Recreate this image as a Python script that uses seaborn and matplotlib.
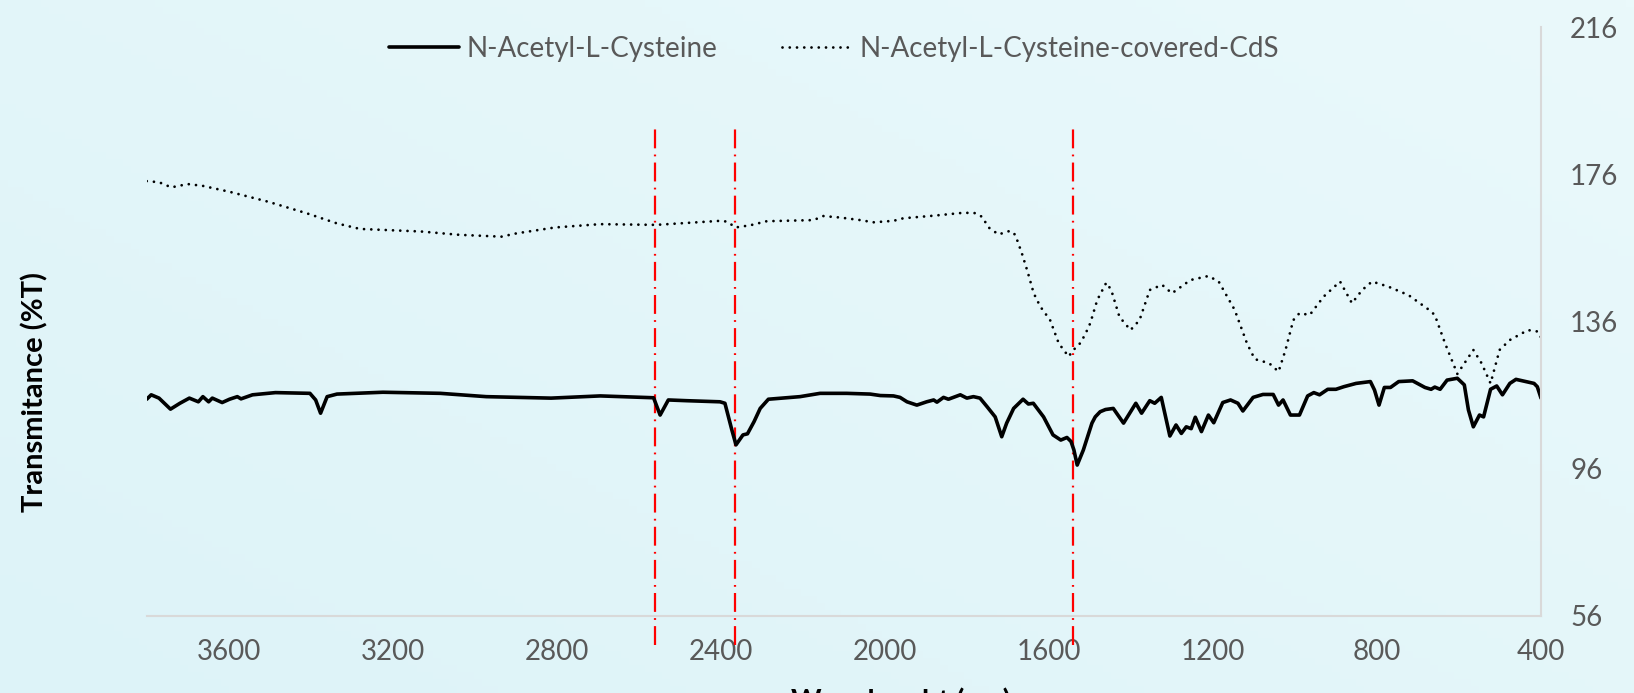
import numpy as np
import pandas as pd
import matplotlib
matplotlib.use("Agg")
import matplotlib.pyplot as plt
import seaborn as sns

# ---------------- data ----------------
nac_wn = [3800, 3789, 3770, 3742, 3719, 3696, 3674, 3663, 3649, 3640, 3616, 3598, 3579, 3570,
          3542, 3486, 3402, 3388, 3376, 3360, 3336, 3224, 3084, 2972, 2898, 2814, 2694, 2564,
          2548, 2528, 2483, 2402, 2390, 2373, 2363, 2346, 2335, 2319, 2304, 2284, 2207, 2158,
          2093, 2036, 2011, 1979, 1963, 1946, 1922, 1898, 1881, 1873, 1857, 1845, 1833, 1816,
          1800, 1784, 1768, 1751, 1731, 1715, 1703, 1686, 1663, 1650, 1638, 1613, 1590, 1571,
          1556, 1546, 1539, 1531, 1516, 1495, 1487, 1475, 1462, 1443, 1418, 1388, 1374, 1354,
          1342, 1326, 1305, 1290, 1277, 1265, 1253, 1243, 1228, 1211, 1198, 1176, 1157, 1139,
          1127, 1102, 1078, 1053, 1040, 1029, 1011, 989, 969, 954, 940, 920, 900, 881, 851,
          816, 806, 795, 782, 767, 747, 713, 683, 668, 659, 646, 629, 604, 587, 577, 565, 550,
          540, 523, 508, 494, 476, 461, 437, 417, 409, 400]
nac_t = [114.8, 116.0, 115.1, 112.1, 113.7, 115.1, 114.1, 115.5, 114.1, 115.1, 113.9, 114.8, 115.5, 114.9,
         116.0, 116.6, 116.4, 114.6, 111.0, 115.5, 116.2, 116.7, 116.4, 115.5, 115.3, 115.1, 115.7, 115.2,
         110.5, 114.6, 114.4, 114.1, 113.7, 106.4, 102.4, 105.1, 105.4, 108.7, 112.3, 114.8, 115.5, 116.4,
         116.4, 116.2, 115.8, 115.7, 115.3, 114.1, 113.2, 114.1, 114.6, 114.0, 115.3, 114.8, 115.3, 116.0,
         115.1, 115.5, 115.1, 112.8, 110.0, 104.6, 108.3, 112.3, 114.8, 113.5, 113.7, 110.0, 105.1, 103.7,
         104.4, 103.3, 101.0, 96.9, 101.0, 108.3, 110.0, 111.4, 112.0, 112.3, 108.3, 113.7, 111.0, 114.4,
         113.7, 115.3, 104.8, 107.8, 105.5, 107.3, 106.8, 109.9, 106.0, 110.5, 108.4, 113.9, 114.6, 113.7,
         111.6, 115.3, 116.1, 116.1, 113.2, 114.6, 110.5, 110.5, 115.7, 116.6, 116.0, 117.5, 117.5, 118.2, 119.1,
         119.6, 117.3, 113.2, 118.0, 118.0, 119.6, 119.8, 118.0, 117.5, 118.1, 117.5, 120.0, 120.5, 118.7, 111.9, 107.3, 110.5,
         110.0, 117.5, 118.4, 116.0, 119.1, 120.2, 119.6, 119.1, 118.2, 115.1]

cds_wn = [3800, 3770, 3740, 3700, 3663, 3598, 3504, 3411, 3336, 3280, 3131, 3038, 2935, 2898,
          2804, 2694, 2558, 2402, 2385, 2364, 2328, 2288, 2174, 2150, 2109, 2060, 2028, 1979,
          1955, 1881, 1808, 1780, 1763, 1747, 1723, 1694, 1682, 1666, 1652, 1637, 1621, 1597,
          1576, 1552, 1540, 1524, 1512, 1499, 1482, 1460, 1448, 1428, 1401, 1379, 1354, 1324,
          1300, 1255, 1211, 1186, 1147, 1117, 1098, 1063, 1040, 1023, 1004, 989, 964, 930,
          890, 861, 836, 812, 772, 723, 673, 659, 634, 604, 565, 545, 523, 501, 476, 432, 407, 400]
cds_t = [174.1, 173.8, 172.4, 173.3, 172.8, 171.2, 168.5, 165.4, 162.6, 161.1, 160.4, 159.5, 159.0, 159.9,
         161.5, 162.4, 162.2, 163.3, 163.1, 161.5, 162.1, 163.2, 163.5, 164.6, 164.2, 163.5, 162.9, 163.3,
         164.0, 164.7, 165.5, 165.4, 164.4, 161.5, 159.6, 160.6, 159.5, 154.5, 149.5, 143.6, 140.0, 136.3,
         130.0, 126.4, 128.2, 130.0, 132.3, 135.5, 141.8, 146.5, 144.5, 137.2, 133.6, 136.3, 144.5, 145.9,
         143.6, 147.2, 148.3, 146.8, 139.1, 130.0, 125.7, 124.6, 122.3, 128.2, 136.3, 138.2, 137.7, 142.7,
         146.8, 140.9, 144.5, 146.8, 145.4, 143.1, 139.1, 137.7, 130.0, 121.7, 128.2, 124.6, 119.1, 128.2, 130.9, 133.6, 133.2, 131.6]

marker_wn = [2560, 2365, 1540]
x_ticks = [3600, 3200, 2800, 2400, 2000, 1600, 1200, 800, 400]
y_ticks = [56, 96, 136, 176, 216]
series_names = ["N-Acetyl-L-Cysteine", "N-Acetyl-L-Cysteine-covered-CdS"]

# ---------------- figure ----------------
sns.set_theme(style="white")
plt.rcParams['font.family'] = ['Lato', 'DejaVu Sans']

W, H = 1634, 693
fig = plt.figure(figsize=(W / 100, H / 100), dpi=100)

# background gradient
bg = fig.add_axes([0, 0, 1, 1], zorder=-10)
gx = np.linspace(0, 1, 200)
gy = np.linspace(0, 1, 100)
GX, GY = np.meshgrid(gx, gy)
t = np.clip(0.55 * GX + 0.45 * GY, 0, 1)
c0 = np.array([221, 243, 248]) / 255
c1 = np.array([234, 249, 251]) / 255
img = c0[None, None, :] * (1 - t[..., None]) + c1[None, None, :] * t[..., None]
bg.imshow(img, origin="lower", aspect="auto", extent=[0, 1, 0, 1])
bg.set_axis_off()

ax = fig.add_axes([146.7 / W, 1 - 615.5 / H, (1541 - 146.7) / W, (615.5 - 27) / H])
ax.set_facecolor("none")

df_nac = pd.DataFrame({"wn": nac_wn, "t": nac_t})
df_cds = pd.DataFrame({"wn": cds_wn, "t": cds_t})

sns.lineplot(data=df_nac, x="wn", y="t", ax=ax, color="black", linewidth=2.6,
             estimator=None, sort=False, label=series_names[0], legend=False,
             solid_joinstyle="round", solid_capstyle="round")
sns.lineplot(data=df_cds, x="wn", y="t", ax=ax, color="black", linewidth=2.0,
             estimator=None, sort=False, label=series_names[1], legend=False,
             linestyle=(0, (0.01, 2.6)), dash_capstyle="round")

for wn in marker_wn:
    ax.plot([wn, wn], [48, 189], color="red", linewidth=1.6,
            linestyle=(0, (8.5, 2.8, 0.8, 2.8)), clip_on=False, zorder=1)

ax.set_xlim(3800, 400)
ax.set_ylim(56, 216)
ax.set_xticks(x_ticks)
ax.set_xticklabels([str(v) for v in x_ticks])
ax.yaxis.tick_right()
ax.set_yticks(y_ticks)
ax.set_yticklabels([str(v) for v in y_ticks])
ax.tick_params(axis="x", length=0, pad=17, labelsize=20, labelcolor="#595959")
ax.tick_params(axis="y", length=0, pad=21, labelsize=20, labelcolor="#595959")
ax.set_xlabel("")
ax.set_ylabel("")
for s in ["top", "left"]:
    ax.spines[s].set_visible(False)
for s in ["bottom", "right"]:
    ax.spines[s].set_color("#D9D9D9")
    ax.spines[s].set_linewidth(1.5)
ax.grid(False)

handles = ax.get_lines()[:2]
fig.legend(handles, series_names, loc="center", bbox_to_anchor=(834 / W, 1 - 49 / H),
           ncol=2, frameon=False, fontsize=20, handlelength=2.5, handletextpad=0.3,
           columnspacing=2.3, labelcolor="#595959")

fig.text(35 / W, 1 - 392 / H, "Transmitance (%T)", rotation=90, ha="center", va="center",
         fontsize=21, fontweight="bold", color="black")
fig.text(901 / W, 1 - 687 / H, "Wavelenght (cm)", ha="center", va="top",
         fontsize=21, fontweight="bold", color="black")

fig.savefig("out.png", dpi=100, facecolor=fig.get_facecolor())
